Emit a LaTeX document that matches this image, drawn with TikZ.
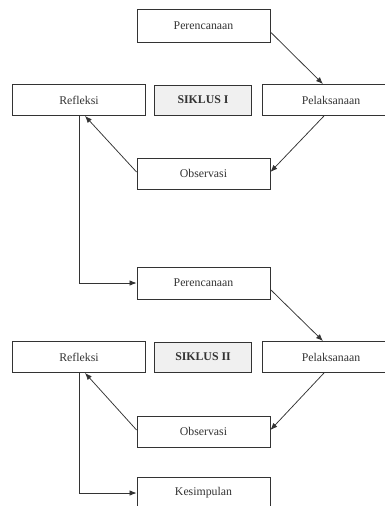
\documentclass[tikz,border=0pt]{standalone}
\usepackage{fontspec}
\setmainfont{Liberation Serif}
\usetikzlibrary{arrows.meta}
\definecolor{ink}{HTML}{333333}
\definecolor{boxfill}{HTML}{F0F0F0}
\tikzset{
  stepbox/.style={draw=ink, line width=0.9pt, fill=white, inner sep=0pt, minimum width=133pt, minimum height=31pt, text=ink, font=\fontsize{11.8}{13}\selectfont},
  labelbox/.style={stepbox, fill=boxfill, minimum width=97pt, minimum height=30pt, font=\fontsize{11.8}{13}\selectfont\bfseries},
  conn/.style={draw=ink, line width=0.75pt, -{Latex[length=7pt,width=5.5pt]}}
}
\begin{document}
\begin{tikzpicture}[x=1pt,y=-1pt]
\useasboundingbox (0,0) rectangle (385,506);
\clip (0,0) rectangle (385,506);
% cycle I
\node[stepbox, minimum height=33pt] (p1) at (203.5,25.5) {Perencanaan};
\node[stepbox] (r1) at (79,100) {Refleksi};
\node[labelbox] (s1) at (203,100) {SIKLUS I};
\node[stepbox, minimum width=138pt] (l1) at (331,100) {Pelaksanaan};
\node[stepbox] (o1) at (203.5,173.5) {Observasi};
% cycle II
\node[stepbox, minimum height=32pt] (p2) at (203.5,283) {Perencanaan};
\node[stepbox] (r2) at (79,357) {Refleksi};
\node[labelbox] (s2) at (203,357) {SIKLUS II};
\node[stepbox, minimum width=138pt] (l2) at (331,357) {Pelaksanaan};
\node[stepbox] (o2) at (203.5,431.5) {Observasi};
\node[stepbox] (k) at (203.5,493) {Kesimpulan};
% connectors cycle I
\draw[conn] ([yshift=-6.5pt]p1.east) -- ([xshift=-8pt]l1.north);
\draw[conn] ([xshift=-7pt]l1.south) -- ([yshift=1.5pt]o1.east);
\draw[conn] ([yshift=1.5pt]o1.west) -- ([xshift=6pt]r1.south);
\draw[conn] (r1.south) |- (p2.west);
% connectors cycle II
\draw[conn] ([yshift=-6.5pt]p2.east) -- ([xshift=-8pt]l2.north);
\draw[conn] ([xshift=-7pt]l2.south) -- ([yshift=1.5pt]o2.east);
\draw[conn] ([yshift=1.5pt]o2.west) -- ([xshift=6pt]r2.south);
\draw[conn] (r2.south) |- (k.west);
\end{tikzpicture}
\end{document}
